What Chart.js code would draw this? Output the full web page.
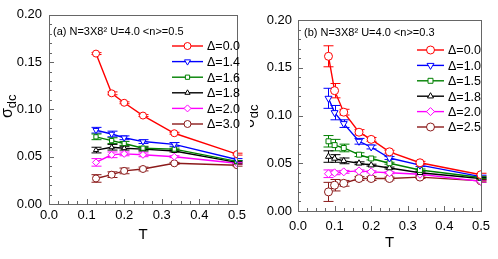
<!DOCTYPE html>
<html>
<head>
<meta charset="utf-8">
<script src="https://cdn.jsdelivr.net/npm/chart.js@4/dist/chart.umd.min.js"></script>
<style>
  body { margin: 0; background: #fff; width: 498px; height: 259px; overflow: hidden; position: relative; }
  canvas { position: absolute; top: 0; }
  #chartA { left: 0; z-index: 2; background: #fff; }
  #chartB { left: 240px; z-index: 1; background: #fff; }
</style>
</head>
<body>
<canvas id="chartA" width="250" height="259"></canvas>
<canvas id="chartB" width="258" height="259"></canvas>
<script>
// ---- panel (a) : <n>=0.5 ----
const tA = [0.125, 0.1667, 0.2, 0.25, 0.3333, 0.5];
const deltaA = ['Δ=0.0', 'Δ=1.4', 'Δ=1.6', 'Δ=1.8', 'Δ=2.0', 'Δ=3.0'];
const sigA_00 = [0.159, 0.117, 0.107, 0.0935, 0.0748, 0.0527];
const sigA_14 = [0.078, 0.074, 0.070, 0.066, 0.063, 0.047];
const sigA_16 = [0.071, 0.067, 0.064, 0.059, 0.058, 0.045];
const sigA_18 = [0.057, 0.060, 0.059, 0.058, 0.056, 0.044];
const sigA_20 = [0.044, 0.052, 0.053, 0.052, 0.050, 0.043];
const sigA_30 = [0.027, 0.031, 0.035, 0.037, 0.043, 0.041];
const errA_00 = [0.001, 0.0015, 0.001, 0.001, 0.001, 0.001];
const errA_14 = [0.003, 0.003, 0.002, 0.002, 0.002, 0.001];
const errA_16 = [0.003, 0.003, 0.002, 0.002, 0.001, 0.001];
const errA_18 = [0.003, 0.003, 0.002, 0.002, 0.001, 0.001];
const errA_20 = [0.004, 0.003, 0.002, 0.002, 0.001, 0.001];
const errA_30 = [0.004, 0.003, 0.003, 0.002, 0.001, 0.001];

// ---- panel (b) : <n>=0.3 ----
const tB = [0.0833, 0.1, 0.125, 0.1667, 0.2, 0.25, 0.3333, 0.5];
const deltaB = ['Δ=0.0', 'Δ=1.0', 'Δ=1.5', 'Δ=1.8', 'Δ=2.0', 'Δ=2.5'];
const sigB_00 = [0.162, 0.126, 0.1035, 0.0825, 0.075, 0.062, 0.0505, 0.038];
const sigB_10 = [0.118, 0.103, 0.0915, 0.073, 0.067, 0.0555, 0.048, 0.036];
const sigB_15 = [0.073, 0.069, 0.066, 0.059, 0.055, 0.050, 0.043, 0.035];
const sigB_18 = [0.057, 0.055, 0.0525, 0.050, 0.048, 0.045, 0.040, 0.034];
const sigB_20 = [0.039, 0.040, 0.041, 0.042, 0.041, 0.040, 0.0385, 0.031];
const sigB_25 = [0.020, 0.027, 0.029, 0.034, 0.034, 0.034, 0.0355, 0.0315];
const errB_00 = [0.011, 0.0075, 0.003, 0.0027, 0.002, 0.0015, 0.0015, 0.0015];
const errB_10 = [0.0105, 0.0075, 0.004, 0.003, 0.002, 0.0015, 0.0015, 0.0015];
const errB_15 = [0.006, 0.006, 0.004, 0.002, 0.0015, 0.001, 0.001, 0.001];
const errB_18 = [0.006, 0.004, 0.003, 0.0015, 0.001, 0.001, 0.001, 0.001];
const errB_20 = [0.004, 0.002, 0.0015, 0.001, 0.001, 0.001, 0.001, 0.001];
const errB_25 = [0.010, 0.006, 0.003, 0.002, 0.002, 0.0015, 0.0015, 0.001];

const yTicks = [0, 0.05, 0.1, 0.15, 0.2];
const xTicks = [0, 0.1, 0.2, 0.3, 0.4, 0.5];

// styles (same order for both panels)
const colors = ['#ff0000', '#0000ff', '#008000', '#000000', '#ff00ff', '#8b1a1a'];
const markers = [
  { style: 'circle', r: 3.5, rot: 0 },
  { style: 'triangle', r: 3.5, rot: 180 },
  { style: 'rect', r: 3, rot: 0 },
  { style: 'triangle', r: 3, rot: 0 },
  { style: 'rectRot', r: 3.5, rot: 0 },
  { style: 'circle', r: 3.5, rot: 0 }
];

Chart.defaults.font.family = '"Liberation Sans", Arial, sans-serif';
Chart.defaults.color = '#000';

function makeSets(t, labels, sigs, errs, big) {
  return sigs.map((s, i) => ({
    label: labels[i],
    data: t.map((x, k) => ({ x: x, y: s[k] })),
    errors: errs[i],
    borderColor: colors[i],
    backgroundColor: '#fff',
    borderWidth: 1.4,
    pointStyle: markers[i].style,
    pointRadius: markers[i].r + big,
    pointRotation: markers[i].rot,
    pointBorderWidth: 1,
    pointBackgroundColor: '#fff',
    pointBorderColor: colors[i],
    tension: 0
  }));
}

// error bars, frame, inward ticks, legend, labels
const decor = {
  id: 'decor',
  beforeDatasetsDraw(chart) {
    const ctx = chart.ctx, xs = chart.scales.x, ys = chart.scales.y;
    chart.data.datasets.forEach(ds => {
      ctx.save();
      ctx.strokeStyle = ds.borderColor;
      ctx.lineWidth = 1;
      ds.data.forEach((p, i) => {
        const e = ds.errors[i];
        const x = Math.round(xs.getPixelForValue(p.x)) + 0.5;
        const y1 = ys.getPixelForValue(p.y - e), y2 = ys.getPixelForValue(p.y + e);
        ctx.beginPath();
        ctx.moveTo(x, y1); ctx.lineTo(x, y2);
        ctx.moveTo(x - 5, y1); ctx.lineTo(x + 5, y1);
        ctx.moveTo(x - 5, y2); ctx.lineTo(x + 5, y2);
        ctx.stroke();
      });
      ctx.restore();
    });
  },
  afterDraw(chart, args, o) {
    const ctx = chart.ctx, a = chart.chartArea, xs = chart.scales.x, ys = chart.scales.y;
    ctx.save();
    // frame
    ctx.strokeStyle = '#666';
    ctx.lineWidth = 1;
    ctx.strokeRect(Math.round(a.left) + 0.5, Math.round(a.top) + 0.5,
      Math.round(a.right - a.left), Math.round(a.bottom - a.top));
    // inward ticks
    ctx.beginPath();
    for (let k = 0; k <= 20; k++) {
      const y = Math.round(ys.getPixelForValue(k * 0.01)) + 0.5;
      const len = k % 5 === 0 ? 5 : 3;
      ctx.moveTo(a.left, y); ctx.lineTo(a.left + len, y);
    }
    for (let k = 0; k <= 20; k++) {
      const x = Math.round(xs.getPixelForValue(k * 0.025)) + 0.5;
      const len = k % 4 === 0 ? 5 : 3;
      ctx.moveTo(x, a.bottom); ctx.lineTo(x, a.bottom - len);
    }
    ctx.stroke();

    // panel label
    ctx.fillStyle = '#000';
    ctx.textBaseline = 'middle';
    ctx.textAlign = 'left';
    ctx.font = '11px "Liberation Sans", Arial, sans-serif';
    ctx.fillText(o.panel, o.px, o.py);

    // legend
    chart.data.datasets.forEach((ds, i) => {
      const y = o.ly + i * o.dy;
      ctx.strokeStyle = ds.borderColor;
      ctx.lineWidth = 1.4;
      ctx.beginPath();
      ctx.moveTo(o.lx, y); ctx.lineTo(o.lx + o.len, y);
      ctx.stroke();
      ctx.fillStyle = '#fff';
      ctx.lineWidth = 1;
      Chart.helpers.drawPoint(ctx, {
        pointStyle: ds.pointStyle, radius: ds.pointRadius,
        rotation: ds.pointRotation, borderWidth: 1
      }, o.lx + o.len / 2, y);
      ctx.fillStyle = '#000';
      ctx.font = '12.5px "Liberation Sans", Arial, sans-serif';
      ctx.fillText(ds.label, o.lx + o.len + 4, y + 1);
    });

    // y title sigma_dc
    ctx.translate(o.tx, o.ty);
    ctx.rotate(-Math.PI / 2);
    ctx.textBaseline = 'alphabetic';
    ctx.font = '16px "Liberation Sans", Arial, sans-serif';
    ctx.fillText('σ', 0, 0);
    const w = ctx.measureText('σ').width;
    ctx.font = '13px "Liberation Sans", Arial, sans-serif';
    ctx.fillText('dc', w, 4);
    ctx.restore();
  }
};

function makeChart(id, sets, o) {
  return new Chart(document.getElementById(id), {
    type: 'line',
    data: { datasets: sets },
    plugins: [decor],
    options: {
      responsive: false,
      animation: false,
      layout: { padding: { top: o.top, right: o.right, left: 0, bottom: 0 } },
      plugins: { legend: { display: false }, tooltip: { enabled: false }, decor: o },
      scales: {
        x: {
          type: 'linear', min: 0, max: 0.5,
          afterBuildTicks: s => { s.ticks = xTicks.map(v => ({ value: v })); },
          afterFit: s => { s.height = o.xh; },
          grid: { display: false, drawTicks: false },
          border: { display: false },
          ticks: { font: { size: 13 }, padding: o.xpad, callback: v => v.toFixed(1), maxRotation: 0 },
          title: { display: true, text: 'T', font: { size: 15 }, padding: { top: 0, bottom: o.tpad } }
        },
        y: {
          type: 'linear', min: 0, max: 0.2,
          afterBuildTicks: s => { s.ticks = yTicks.map(v => ({ value: v })); },
          afterFit: s => { s.width = o.yw; },
          grid: { display: false, drawTicks: false },
          border: { display: false },
          ticks: { font: { size: 13 }, padding: o.ypad, callback: v => v.toFixed(2) }
        }
      }
    }
  });
}

makeChart('chartA',
  makeSets(tA, deltaA, [sigA_00, sigA_14, sigA_16, sigA_18, sigA_20, sigA_30],
    [errA_00, errA_14, errA_16, errA_18, errA_20, errA_30], 0),
  { top: 14, right: 7, xh: 55, yw: 49, xpad: 4, ypad: 7, tpad: 15,
    panel: '(a) N=3X8² U=4.0 <n>=0.5', px: 53, py: 32,
    lx: 172, ly: 46, dy: 15.6, len: 31, tx: 12, ty: 118 });

makeChart('chartB',
  makeSets(tB, deltaB, [sigB_00, sigB_10, sigB_15, sigB_18, sigB_20, sigB_25],
    [errB_00, errB_10, errB_15, errB_18, errB_20, errB_25], 0.5),
  { top: 20, right: 9, xh: 48, yw: 58, xpad: 8, ypad: 6, tpad: 7,
    panel: '(b) N=3X8² U=4.0 <n>=0.3', px: 64, py: 33,
    lx: 177, ly: 50, dy: 15.4, len: 27, tx: 14, ty: 128 });
</script>
</body>
</html>
